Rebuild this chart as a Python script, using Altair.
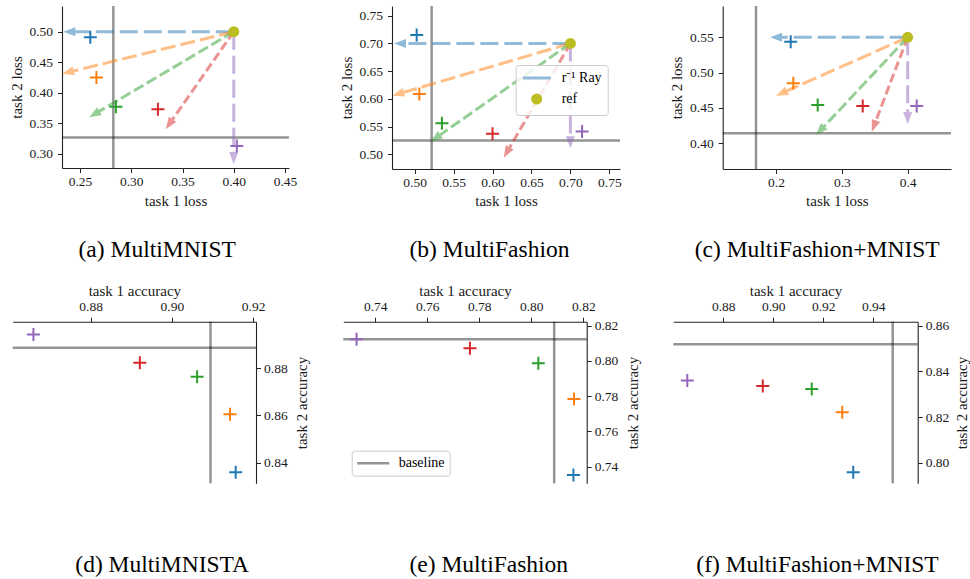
import math
import altair as alt
import pandas as pd

# ---------------- data ----------------
PREFS = ["pref 1", "pref 2", "pref 3", "pref 4", "pref 5"]
PALETTE = ["#1f77b4", "#ff7f0e", "#2ca02c", "#d62728", "#9467bd"]
DASHES = [[18, 6], [15, 5], [11, 4], [9, 4], [18, 6]]
OLIVE = "#bcbd22"

# (a) MultiMNIST (losses)
A_TASK1 = [0.260, 0.266, 0.285, 0.326, 0.403]
A_TASK2 = [0.491, 0.425, 0.377, 0.373, 0.313]
A_REF = [0.40, 0.50]
A_RAY_X = [0.2337, 0.2324, 0.259, 0.3336, 0.40]
A_RAY_Y = [0.50, 0.431, 0.360, 0.3404, 0.2837]
A_BASE = [0.2825, 0.3267]
A_XLIM = [0.2324, 0.4539]
A_YLIM = [0.277, 0.542]
A_XTICKS = [0.25, 0.30, 0.35, 0.40, 0.45]
A_YTICKS = [0.30, 0.35, 0.40, 0.45, 0.50]

# (b) MultiFashion (losses)
B_TASK1 = [0.5026, 0.506, 0.535, 0.600, 0.715]
B_TASK2 = [0.715, 0.609, 0.556, 0.537, 0.541]
B_REF = [0.70, 0.70]
B_RAY_X = [0.4734, 0.4713, 0.5205, 0.6143, 0.70]
B_RAY_Y = [0.70, 0.6058, 0.5229, 0.494, 0.511]
B_BASE = [0.5218, 0.5247]
B_XLIM = [0.4709, 0.7637]
B_YLIM = [0.4735, 0.7675]
B_XTICKS = [0.50, 0.55, 0.60, 0.65, 0.70, 0.75]
B_YTICKS = [0.50, 0.55, 0.60, 0.65, 0.70, 0.75]

# (c) MultiFashion+MNIST (losses)
C_TASK1 = [0.2223, 0.2263, 0.2633, 0.3317, 0.4137]
C_TASK2 = [0.5438, 0.4849, 0.4542, 0.4528, 0.4528]
C_REF = [0.40, 0.55]
C_RAY_X = [0.1909, 0.200, 0.2608, 0.3454, 0.40]
C_RAY_Y = [0.55, 0.4674, 0.4118, 0.4164, 0.4273]
C_BASE = [0.1696, 0.4142]
C_XLIM = [0.119, 0.4658]
C_YLIM = [0.3636, 0.5943]
C_XTICKS = [0.2, 0.3, 0.4]
C_YTICKS = [0.40, 0.45, 0.50, 0.55]

# (d) MultiMNIST (accuracies)
D_ACC1 = [0.9157, 0.9143, 0.9062, 0.8921, 0.8659]
D_ACC2 = [0.8359, 0.8605, 0.8764, 0.8824, 0.8944]
D_BASE = [0.9095, 0.8887]
D_XLIM = [0.8608, 0.9207]
D_YLIM = [0.8312, 0.8998]
D_XTICKS = [0.88, 0.90, 0.92]
D_YTICKS = [0.84, 0.86, 0.88]

# (e) MultiFashion (accuracies)
E_ACC1 = [0.8162, 0.8164, 0.8027, 0.7764, 0.7328]
E_ACC2 = [0.7353, 0.7784, 0.7987, 0.8072, 0.8123]
E_BASE = [0.8088, 0.8123]
E_XLIM = [0.7277, 0.8213]
E_YLIM = [0.7306, 0.8223]
E_XTICKS = [0.74, 0.76, 0.78, 0.80, 0.82]
E_YTICKS = [0.74, 0.76, 0.78, 0.80, 0.82]

# (f) MultiFashion+MNIST (accuracies)
F_ACC1 = [0.9320, 0.9276, 0.9154, 0.8958, 0.8656]
F_ACC2 = [0.7959, 0.8221, 0.8323, 0.8336, 0.8360]
F_BASE = [0.9478, 0.8519]
F_XLIM = [0.8600, 0.9578]
F_YLIM = [0.7911, 0.8617]
F_XTICKS = [0.88, 0.90, 0.92, 0.94]
F_YTICKS = [0.80, 0.82, 0.84, 0.86]

CAPTIONS = ["(a) MultiMNIST", "(b) MultiFashion", "(c) MultiFashion+MNIST",
            "(d) MultiMNISTA", "(e) MultiFashion", "(f) MultiFashion+MNIST"]
RAY_LABEL = "r\u207b\u00b9 Ray"
REF_LABEL = "ref"
BASELINE_LABEL = "baseline"

# ---------------- layout / style ----------------
W, H = 970, 579
FONT = "Liberation Serif"
TICK_FS = 13.5
TITLE_FS = 15
LEG_FS = 14
CAP_FS = 23.5
HEAD_LEN = 12
HEAD = "M0,0L0.45,1.2L-0.45,1.2Z"
CROSS = "M-1,0L1,0M0,-1L0,1"

color_scale = alt.Scale(domain=PREFS, range=PALETTE)
dash_scale = alt.Scale(domain=PREFS, range=DASHES)


def scales(xlim, ylim, xpx, ypx):
    xs = alt.Scale(domain=xlim, range=xpx, nice=False, zero=False)
    ys = alt.Scale(domain=ylim, range=ypx, nice=False, zero=False)
    return xs, ys


def caption_axis(caption, cap_x, cap_base):
    return alt.Axis(orient="bottom", offset=0, domain=False, ticks=False, labels=False,
                    title=caption, titleFontSize=CAP_FS, titleX=cap_x, titleY=cap_base - H,
                    titleBaseline="alphabetic", titleAlign="center", titleColor="black")


def baseline_layers(base, xlim, ylim, xs, ys, x_axis, y_axis, cap_axis, legend=None):
    df = pd.DataFrame({"bx": [base[0]], "by": [base[1]], "xmin": [xlim[0]], "xmax": [xlim[1]],
                       "ymin": [ylim[0]], "ymax": [ylim[1]], "kind": [BASELINE_LABEL]})
    henc = dict(x=alt.X("xmin:Q", scale=xs, axis=x_axis), x2="xmax:Q",
                y=alt.Y("by:Q", scale=ys, axis=y_axis))
    if legend is not None:
        henc["stroke"] = alt.Stroke("kind:N", scale=alt.Scale(domain=[BASELINE_LABEL], range=["black"]),
                                    legend=legend)
        hrule = alt.Chart(df).mark_rule(strokeWidth=2.5, opacity=0.42).encode(**henc)
    else:
        hrule = alt.Chart(df).mark_rule(strokeWidth=2.5, opacity=0.42, color="black").encode(**henc)
    vrule = alt.Chart(df).mark_rule(strokeWidth=2.5, opacity=0.42, color="black").encode(
        x=alt.X("bx:Q", scale=xs, axis=cap_axis),
        y=alt.Y("ymin:Q", scale=ys, axis=y_axis), y2="ymax:Q")
    return hrule, vrule


def top_panel(caption, t1, t2, ref, rx, ry, base, xlim, ylim, xticks, yticks, xfmt, yfmt,
              xpx, ypx, ytitle_x, cap_x, legend=False):
    xs, ys = scales(xlim, ylim, xpx, ypx)
    sx = (xpx[1] - xpx[0]) / (xlim[1] - xlim[0])
    sy = (ypx[0] - ypx[1]) / (ylim[1] - ylim[0])
    rows = []
    for p, tx, ty in zip(PREFS, rx, ry):
        dxs = (tx - ref[0]) * sx
        dys = -(ty - ref[1]) * sy
        n = math.hypot(dxs, dys)
        ux, uy = dxs / n, dys / n
        rows.append(dict(pref=p, rx=ref[0], ry=ref[1],
                         ex=tx - HEAD_LEN * ux / sx, ey=ty + HEAD_LEN * uy / sy,
                         tx=tx, ty=ty, angle=math.degrees(math.atan2(ux, -uy)) % 360))
    rays_df = pd.DataFrame(rows)
    pts_df = pd.DataFrame({"pref": PREFS, "t1": t1, "t2": t2})
    ref_df = pd.DataFrame({"t1": [ref[0]], "t2": [ref[1]], "item": [REF_LABEL]})

    x_axis = alt.Axis(orient="bottom", offset=ypx[0] - H, values=xticks, format=xfmt,
                      title="task 1 loss", titleX=(xpx[0] + xpx[1]) / 2, titleY=205 - ypx[0],
                      titleBaseline="alphabetic", titleAlign="center", labelPadding=2)
    y_axis = alt.Axis(orient="left", offset=-xpx[0], values=yticks, format=yfmt,
                      title="task 2 loss", titleAngle=270, titleX=ytitle_x - xpx[0],
                      titleY=(ypx[0] + ypx[1]) / 2, titleBaseline="middle", titleAlign="center",
                      labelPadding=5)

    def X(field):
        return alt.X(field, scale=xs, axis=x_axis)

    def Y(field):
        return alt.Y(field, scale=ys, axis=y_axis)

    rays = alt.Chart(rays_df).mark_rule(strokeWidth=3, opacity=0.5).encode(
        x=X("rx:Q"), y=Y("ry:Q"), x2="ex:Q", y2="ey:Q",
        color=alt.Color("pref:N", scale=color_scale, legend=None),
        strokeDash=alt.StrokeDash("pref:N", scale=dash_scale, legend=None))
    heads = alt.Chart(rays_df).mark_point(shape=HEAD, filled=True, size=400, opacity=0.5).encode(
        x=X("tx:Q"), y=Y("ty:Q"),
        color=alt.Color("pref:N", scale=color_scale, legend=None),
        angle=alt.Angle("angle:Q", scale=None))
    crosses = alt.Chart(pts_df).mark_point(shape=CROSS, filled=False, size=169, strokeWidth=2,
                                           opacity=1).encode(
        x=X("t1:Q"), y=Y("t2:Q"),
        color=alt.Color("pref:N", scale=color_scale, legend=None))
    if legend:
        leg = alt.Legend(title=None, orient="none", legendX=515.7, legendY=65, padding=6,
                         fillColor="rgba(255,255,255,0.8)", strokeColor="#cccccc", cornerRadius=3,
                         labelFont=FONT, labelFontSize=LEG_FS, labelColor="black",
                         symbolSize=64, symbolStrokeWidth=3, symbolOpacity=1,
                         symbolOffset=8, labelOffset=18, rowPadding=4)
        refp = alt.Chart(ref_df).mark_point(size=64, strokeWidth=3, opacity=1, filled=True).encode(
            x=X("t1:Q"), y=Y("t2:Q"),
            shape=alt.Shape("item:N", scale=alt.Scale(domain=[RAY_LABEL, REF_LABEL],
                                                      range=["M-3.5,0L3.5,0", "circle"]), legend=leg),
            fill=alt.Fill("item:N", scale=alt.Scale(domain=[RAY_LABEL, REF_LABEL],
                                                    range=["transparent", OLIVE]), legend=leg),
            stroke=alt.Stroke("item:N", scale=alt.Scale(domain=[RAY_LABEL, REF_LABEL],
                                                        range=["#8fbbd9", OLIVE]), legend=leg))
    else:
        refp = alt.Chart(ref_df).mark_point(shape="circle", size=64, strokeWidth=3, opacity=1,
                                            filled=True, fill=OLIVE, stroke=OLIVE).encode(
            x=X("t1:Q"), y=Y("t2:Q"))
    hrule, vrule = baseline_layers(base, xlim, ylim, xs, ys, x_axis, y_axis,
                                   caption_axis(caption, cap_x, 256.7))
    core = alt.layer(hrule, rays, heads, crosses, refp)
    return alt.layer(vrule, core).resolve_scale(x="independent")


def bottom_panel(caption, a1, a2, base, xlim, ylim, xticks, yticks, xpx, ypx, ytitle_x, cap_x,
                 legend=False):
    xs, ys = scales(xlim, ylim, xpx, ypx)
    pts_df = pd.DataFrame({"pref": PREFS, "a1": a1, "a2": a2})
    x_axis = alt.Axis(orient="top", offset=-ypx[1], values=xticks, format=".2f",
                      title="task 1 accuracy", titleX=(xpx[0] + xpx[1]) / 2, titleY=295 - ypx[1],
                      titleBaseline="alphabetic", titleAlign="center", labelPadding=4)
    y_axis = alt.Axis(orient="right", offset=xpx[1] - W, values=yticks, format=".2f",
                      title="task 2 accuracy", titleAngle=270, titleX=ytitle_x - xpx[1],
                      titleY=(ypx[0] + ypx[1]) / 2, titleBaseline="middle", titleAlign="center",
                      labelPadding=3)
    crosses = alt.Chart(pts_df).mark_point(shape=CROSS, filled=False, size=169, strokeWidth=2,
                                           opacity=1).encode(
        x=alt.X("a1:Q", scale=xs, axis=x_axis), y=alt.Y("a2:Q", scale=ys, axis=y_axis),
        color=alt.Color("pref:N", scale=color_scale, legend=None))
    leg = None
    if legend:
        leg = alt.Legend(title=None, orient="none", legendX=351.7, legendY=450.7, padding=5,
                         fillColor="rgba(255,255,255,0.8)", strokeColor="#cccccc", cornerRadius=3,
                         labelFont=FONT, labelFontSize=LEG_FS, labelColor="black",
                         symbolType="M-2.67,0L2.67,0", symbolSize=144, symbolStrokeWidth=2.5,
                         symbolOpacity=0.42, symbolOffset=9, labelOffset=18)
    hrule, vrule = baseline_layers(base, xlim, ylim, xs, ys, x_axis, y_axis,
                                   caption_axis(caption, cap_x, 571.7), leg)
    core = alt.layer(hrule, crosses)
    return alt.layer(vrule, core).resolve_scale(x="independent")


pa = top_panel(CAPTIONS[0], A_TASK1, A_TASK2, A_REF, A_RAY_X, A_RAY_Y, A_BASE, A_XLIM, A_YLIM,
               A_XTICKS, A_YTICKS, ".2f", ".2f", [62, 289], [168, 6], 16.5, 156.7)
pb = top_panel(CAPTIONS[1], B_TASK1, B_TASK2, B_REF, B_RAY_X, B_RAY_Y, B_BASE, B_XLIM, B_YLIM,
               B_XTICKS, B_YTICKS, ".2f", ".2f", [392, 620], [169, 6], 346.5, 489, legend=True)
pc = top_panel(CAPTIONS[2], C_TASK1, C_TASK2, C_REF, C_RAY_X, C_RAY_Y, C_BASE, C_XLIM, C_YLIM,
               C_XTICKS, C_YTICKS, ".1f", ".2f", [722.7, 951], [169, 6], 676.5, 816.7)
pd_ = bottom_panel(CAPTIONS[3], D_ACC1, D_ACC2, D_BASE, D_XLIM, D_YLIM, D_XTICKS, D_YTICKS,
                   [12.7, 256], [483.3, 321.7], 301.7, 161.7)
pe = bottom_panel(CAPTIONS[4], E_ACC1, E_ACC2, E_BASE, E_XLIM, E_YLIM, E_XTICKS, E_YTICKS,
                  [343.3, 586.7], [483.3, 321.7], 632.5, 488.3, legend=True)
pf = bottom_panel(CAPTIONS[5], F_ACC1, F_ACC2, F_BASE, F_XLIM, F_YLIM, F_XTICKS, F_YTICKS,
                  [673.3, 917.7], [483.3, 321.7], 961.5, 817)

chart = alt.layer(pa, pb, pc, pd_, pe, pf).resolve_scale(
    x="independent", y="independent", stroke="independent", fill="independent", shape="independent"
).properties(
    width=W, height=H, autosize=alt.AutoSizeParams(type="none"), padding=0
).configure_view(strokeWidth=0).configure_axis(
    grid=False, labelFont=FONT, labelFontSize=TICK_FS, labelColor="#1a1a1a",
    titleFont=FONT, titleFontSize=TITLE_FS, titleFontWeight="normal", titleColor="#1a1a1a",
    tickColor="#222222", tickSize=4.5, tickWidth=1, domainColor="#222222", domainWidth=1.1,
    labelFlush=False, labelOverlap=False, labelBound=False
).configure_legend(labelFont=FONT)

chart.save("out.html", embed_options={"renderer": "svg", "actions": False})
